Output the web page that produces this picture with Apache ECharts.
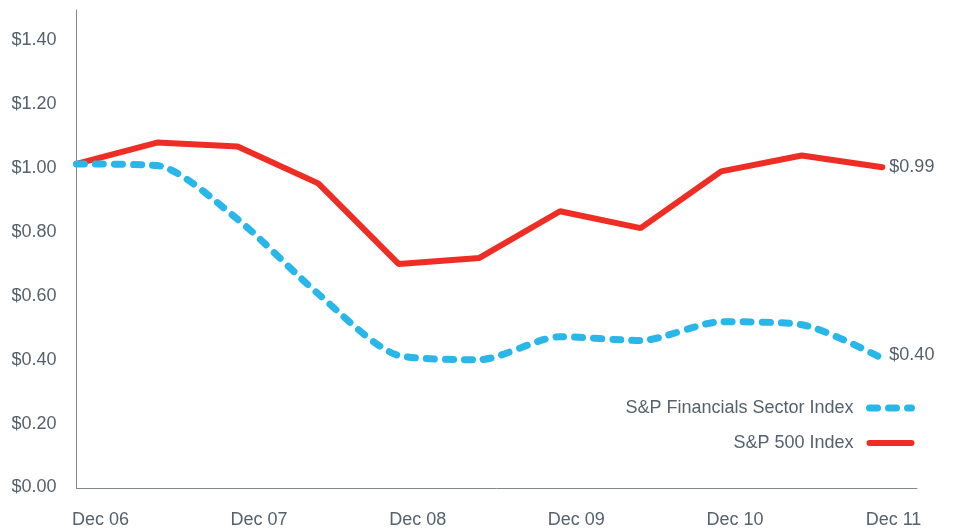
<!DOCTYPE html>
<html>
<head>
<meta charset="utf-8">
<script src="https://cdn.jsdelivr.net/npm/echarts@6/dist/echarts.min.js"></script>
<style>
  html, body { margin: 0; padding: 0; background: #ffffff; }
  #chart { width: 955px; height: 529px; }
</style>
</head>
<body>
<div id="chart"></div>
<script>
// Half-year observation points, Dec 06 through Dec 11
const periods = ['Dec 06', 'Jun 07', 'Dec 07', 'Jun 08', 'Dec 08', 'Jun 09',
                 'Dec 09', 'Jun 10', 'Dec 10', 'Jun 11', 'Dec 11'];
// Growth of $1 invested
const sp500 = [1.00, 1.066, 1.054, 0.94, 0.691, 0.71, 0.854, 0.802, 0.977, 1.026, 0.99];
const financials = [1.00, 0.995, 0.829, 0.599, 0.409, 0.396, 0.467, 0.455, 0.513, 0.504, 0.40];
// Year-end labels along the bottom
const yearLabels = ['Dec 06', 'Dec 07', 'Dec 08', 'Dec 09', 'Dec 10', 'Dec 11'];
const yTicks = [0, 0.2, 0.4, 0.6, 0.8, 1.0, 1.2, 1.4];

const seriesNames = ['S&P Financials Sector Index', 'S&P 500 Index'];

const red = '#ee2d24';
const blue = '#29b6e9';
const textColor = '#55616d';
const axisColor = '#80878d';
const font = 'Liberation Sans';

const toPairs = arr => arr.map((v, i) => [i, v]);
const money = v => '$' + v.toFixed(2);

const redLine = { color: red, width: 6, cap: 'round' };
const blueLine = { color: blue, width: 7, type: [8, 11], cap: 'round' };
const hiddenMarker = { color: 'transparent', borderWidth: 0 };

const chart = echarts.init(document.getElementById('chart'), null, { renderer: 'canvas' });

chart.setOption({
  backgroundColor: '#ffffff',
  animation: false,
  grid: { left: 76.5, right: 38, top: 10, bottom: 39 },
  xAxis: [
    {
      type: 'value',
      min: 0,
      max: 10.43,
      axisLine: { show: true, lineStyle: { color: axisColor, width: 1 } },
      axisTick: { show: false },
      axisLabel: { show: false },
      splitLine: { show: false }
    },
    {
      // year-end label track
      type: 'value',
      position: 'bottom',
      min: -0.1514,
      max: 5.148,
      axisLine: { show: false },
      axisTick: { show: false },
      splitLine: { show: false },
      axisLabel: {
        customValues: yearLabels.map((_, i) => i),
        formatter: v => yearLabels[Math.round(v)],
        color: textColor,
        fontFamily: font,
        fontSize: 18,
        margin: 23
      }
    }
  ],
  yAxis: [
    {
      type: 'value',
      min: 0,
      max: 1.475,
      axisLine: { show: true, lineStyle: { color: axisColor, width: 1 } },
      axisTick: { show: false },
      axisLabel: { show: false },
      splitLine: { show: false }
    },
    {
      // dollar label track
      type: 'value',
      position: 'left',
      min: -0.0015,
      max: 1.4951,
      axisLine: { show: false },
      axisTick: { show: false },
      splitLine: { show: false },
      axisLabel: {
        customValues: yTicks,
        formatter: v => money(v),
        color: textColor,
        fontFamily: font,
        fontSize: 18,
        margin: 20
      }
    }
  ],
  legend: {
    orient: 'vertical',
    data: [
      { name: seriesNames[0], lineStyle: blueLine, itemStyle: hiddenMarker },
      { name: seriesNames[1], lineStyle: redLine, itemStyle: hiddenMarker }
    ],
    align: 'right',
    right: 35,
    top: 394,
    itemWidth: 42,
    itemHeight: 14,
    itemGap: 17,
    itemStyle: hiddenMarker,
    textStyle: {
      color: textColor,
      fontFamily: font,
      fontSize: 18,
      padding: [0, 11, 0, 0]
    }
  },
  series: [
    {
      name: seriesNames[1],
      type: 'line',
      data: toPairs(sp500),
      symbol: 'none',
      lineStyle: redLine,
      itemStyle: { color: red },
      endLabel: {
        show: true,
        formatter: p => money(p.value[1]),
        color: textColor,
        fontFamily: font,
        fontSize: 18,
        distance: 7
      }
    },
    {
      name: seriesNames[0],
      type: 'line',
      data: toPairs(financials),
      symbol: 'none',
      smooth: 0.25,
      lineStyle: blueLine,
      itemStyle: { color: blue },
      endLabel: {
        show: true,
        formatter: p => money(p.value[1]),
        color: textColor,
        fontFamily: font,
        fontSize: 18,
        distance: 7,
        offset: [0, -3]
      }
    }
  ]
});
</script>
</body>
</html>
